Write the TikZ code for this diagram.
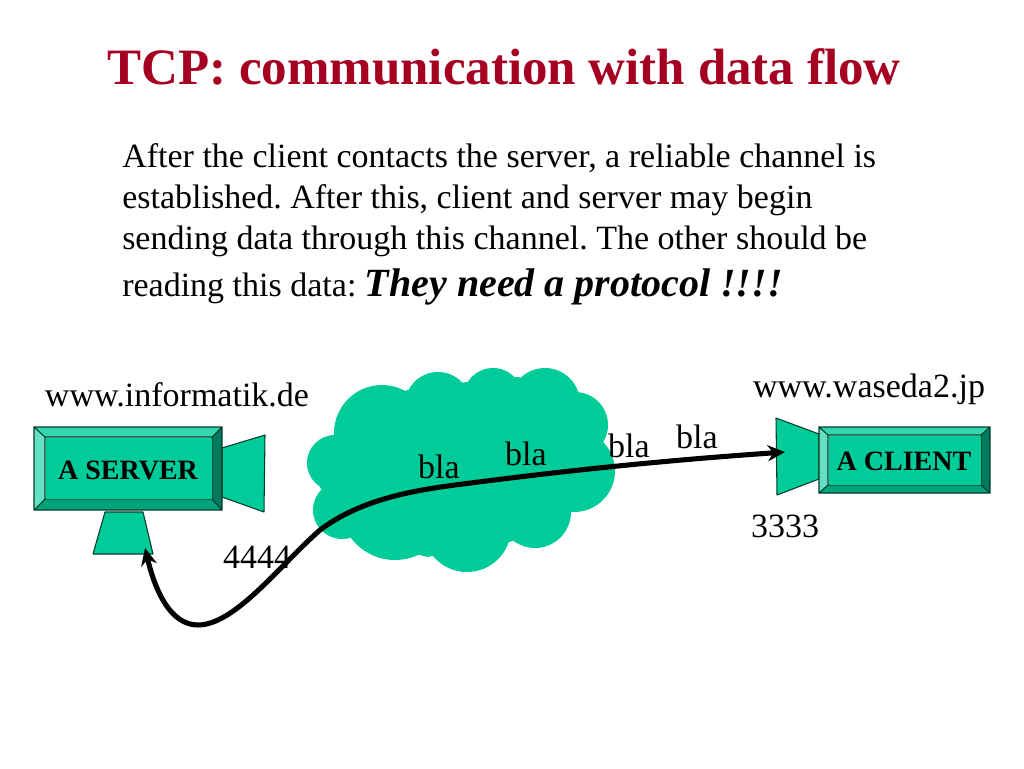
\documentclass[tikz,border=0pt]{standalone}
\usepackage{fontspec}
\setmainfont{Liberation Serif}
\usetikzlibrary{arrows.meta}
\definecolor{boxgreen}{HTML}{00CC99}
\definecolor{boxlight}{HTML}{33D6AD}
\definecolor{boxpale}{HTML}{66E0C2}
\definecolor{boxdim}{HTML}{00A37A}
\definecolor{boxdark}{HTML}{007A5C}
\definecolor{boxedge}{HTML}{003B2C}
\definecolor{titlered}{HTML}{A50021}
\tikzset{
    bodytext/.style={font=\fontsize{25.5pt}{30.75pt}\selectfont, inner sep=0pt},
    partbox/.style={fill=boxgreen, draw=boxedge, line width=0.8pt, line join=round},
    boxlabel/.style={font=\fontsize{21pt}{24pt}\selectfont\bfseries, inner sep=0pt},
}
\frenchspacing
\begin{document}
\begin{tikzpicture}[x=0.75pt, y=-0.75pt, >={Stealth[length=13pt, width=12pt]}]
    \useasboundingbox (0,0) rectangle (1024,768);

    \node[font=\fontsize{38.25pt}{42pt}\selectfont\bfseries, text=titlered, inner sep=0pt] (title) at (504,67) {TCP: communication with data flow};
    \node[bodytext, align=left, anchor=north west] (intro) at (122,143) {After the client contacts the server, a reliable channel is\\
        established. After this, client and server may begin\\
        sending data through this channel. The other should be\\[5pt]
        reading this data: {\fontsize{30pt}{30pt}\selectfont\bfseries\itshape They need a protocol !!!!}};

    % cloud
    \fill[boxgreen] (335,435) -- (407,390) -- (467,382) -- (518,377) -- (578,392) -- (605,435) -- (572,510)
        -- (510,542) -- (427,557) -- (350,535) -- (320,487) -- cycle;
    \foreach \cx/\cy/\cr in {335/463/28, 382/433/48, 438/405/33, 493/398/30, 545/403/35, 575/425/33,
                             574/471/41, 535/512/36, 467/528/44, 395/505/55, 342/510/29} {
        \fill[boxgreen] (\cx,\cy) circle (\cr);
    }

    % server
    \draw[partbox] (222,448) -- (265,435) -- (264,512) -- (222,497) -- cycle;
    \draw[partbox] (105,512) -- (143,512) -- (153,554) -- (93,554) -- cycle;
    \fill[boxlight] (34,427) -- (222,427) -- (212,437) -- (45,437) -- cycle;
    \fill[boxpale] (34,427) -- (45,437) -- (45,499) -- (34,510) -- cycle;
    \fill[boxdim] (34,510) -- (45,499) -- (212,499) -- (222,510) -- cycle;
    \fill[boxdark] (222,427) -- (212,437) -- (212,499) -- (222,510) -- cycle;
    \draw[boxedge, line width=0.8pt] (34,427) rectangle (222,510) (45,437) rectangle (212,499)
        (34,427) -- (45,437) (222,427) -- (212,437) (34,510) -- (45,499) (222,510) -- (212,499);
    \fill[boxgreen] (45.5,437.5) rectangle (211.5,498.5);
    \node[boxlabel] (server) at (128,470) {A SERVER};

    % client
    \draw[partbox] (819,434) -- (776,418) -- (777,495) -- (819,479) -- cycle;
    \fill[boxlight] (819,427) -- (990,427) -- (981,435) -- (828,435) -- cycle;
    \fill[boxpale] (819,427) -- (828,435) -- (828,485) -- (819,493) -- cycle;
    \fill[boxdim] (819,493) -- (828,485) -- (981,485) -- (990,493) -- cycle;
    \fill[boxdark] (990,427) -- (981,435) -- (981,485) -- (990,493) -- cycle;
    \draw[boxedge, line width=0.8pt] (819,427) rectangle (990,493) (828,435) rectangle (981,485)
        (819,427) -- (828,435) (990,427) -- (981,435) (819,493) -- (828,485) (990,493) -- (981,485);
    \fill[boxgreen] (828.5,435.5) rectangle (980.5,484.5);
    \node[boxlabel] (client) at (904,461) {A CLIENT};

    \node[bodytext] (serverhost) at (177,395) {www.informatik.de};
    \node[bodytext] (clienthost) at (869,389) {www.waseda2.jp};
    \node[bodytext] (serverportno) at (257,557) {4444};
    \node[bodytext] (clientportno) at (785,526) {3333};
    \node[bodytext] (blaa) at (439,467) {bla};
    \node[bodytext] (blab) at (526,454) {bla};
    \node[bodytext] (blac) at (629,446) {bla};
    \node[bodytext] (blad) at (697,437) {bla};

    % data flow
    \coordinate (clientport) at (785,452);
    \coordinate (serverport) at (145,548);
    \draw[<->, line width=3.8pt] (clientport) .. controls (700,458) and (600,466) .. (455,485)
        .. controls (410,491) and (360,500) .. (320,530)
        .. controls (280,565) and (235,625) .. (198,625)
        .. controls (170,625) and (155,590) .. (serverport);
\end{tikzpicture}
\end{document}
